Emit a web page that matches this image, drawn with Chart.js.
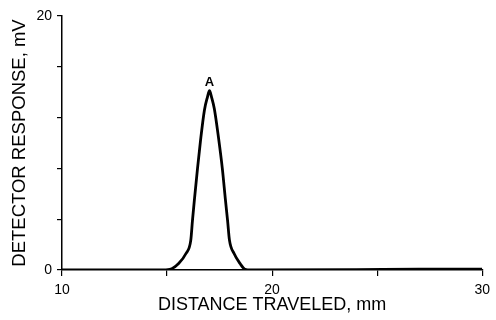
<!DOCTYPE html>
<html>
<head>
<meta charset="utf-8">
<script src="https://cdn.jsdelivr.net/npm/chart.js@4.4.1/dist/chart.umd.min.js"></script>
<style>
  html, body { margin: 0; padding: 0; background: #fff; }
  #wrap { width: 496px; height: 320px; }
</style>
</head>
<body>
<div id="wrap"><canvas id="chromatogram" width="496" height="320"></canvas></div>
<script>
// distance traveled (mm) and detector response (mV)
const distance = [10, 14.7, 15.13, 15.55, 15.9, 16.13, 16.21, 16.30, 16.45, 16.6, 16.78, 16.92,
  17.02, 17.12, 17.25, 17.45, 17.63, 17.78, 17.88, 17.97, 18.19, 18.47, 18.71, 19.0, 24, 27, 30];
const response = [0, 0, 0.05, 0.52, 1.3, 2.35, 3.9, 5.5, 8.0, 10.3, 12.6, 13.6,
  14.12, 13.6, 12.7, 10.4, 8.0, 5.5, 3.9, 2.35, 1.3, 0.52, 0.05, 0, 0.02, 0.06, 0.06];
const xLabels = [10, 20, 30];
const yLabels = [0, 20];
const peakName = 'A';
const peakX = 17.02;
const peakY = 14.12;

const fontFam = '"Liberation Sans", Arial, Helvetica, sans-serif';

const peakLabel = {
  id: 'peakLabel',
  afterDatasetsDraw(chart) {
    const c = chart.ctx;
    const px = chart.scales.x.getPixelForValue(peakX);
    const py = chart.scales.y.getPixelForValue(peakY);
    c.save();
    c.fillStyle = '#000';
    c.font = 'bold 13px ' + fontFam;
    c.textAlign = 'center';
    c.textBaseline = 'bottom';
    c.fillText(peakName, px, py - 2);
    c.restore();
  }
};

const ctx = document.getElementById('chromatogram').getContext('2d');
new Chart(ctx, {
  type: 'line',
  data: {
    datasets: [{
      data: distance.map((d, i) => ({x: d, y: response[i]})),
      borderColor: '#000',
      borderWidth: 2.8,
      pointRadius: 0,
      fill: false,
      cubicInterpolationMode: 'monotone'
    }]
  },
  options: {
    responsive: false,
    animation: false,
    layout: { padding: { top: 16, right: 9, left: 0, bottom: 0 } },
    plugins: { legend: { display: false }, tooltip: { enabled: false } },
    scales: {
      x: {
        type: 'linear',
        min: 10, max: 30,
        border: { color: '#000', width: 1.5 },
        grid: { drawOnChartArea: false, drawTicks: true, tickLength: 6, color: '#000', lineWidth: 1.2 },
        ticks: {
          stepSize: 5,
          color: '#000',
          font: { family: fontFam, size: 14 },
          padding: 6,
          maxRotation: 0,
          callback: v => xLabels.includes(v) ? String(v) : ''
        },
        title: {
          display: true,
          text: 'DISTANCE TRAVELED, mm',
          color: '#000',
          font: { family: fontFam, size: 18 },
          padding: { top: 0, bottom: 4 }
        },
        afterFit(scale) { scale.height = 50; }
      },
      y: {
        min: 0, max: 20,
        border: { color: '#000', width: 1.5 },
        grid: { drawOnChartArea: false, drawTicks: true, tickLength: 5, color: '#000', lineWidth: 1.2 },
        ticks: {
          stepSize: 4,
          color: '#000',
          font: { family: fontFam, size: 14 },
          padding: 5,
          callback: v => yLabels.includes(v) ? String(v) : ''
        },
        title: {
          display: true,
          text: 'DETECTOR RESPONSE, mV',
          color: '#000',
          font: { family: fontFam, size: 18.5 },
          padding: { top: 9, bottom: 0 }
        },
        afterFit(scale) { scale.width = 62; }
      }
    }
  },
  plugins: [peakLabel]
});
</script>
</body>
</html>
